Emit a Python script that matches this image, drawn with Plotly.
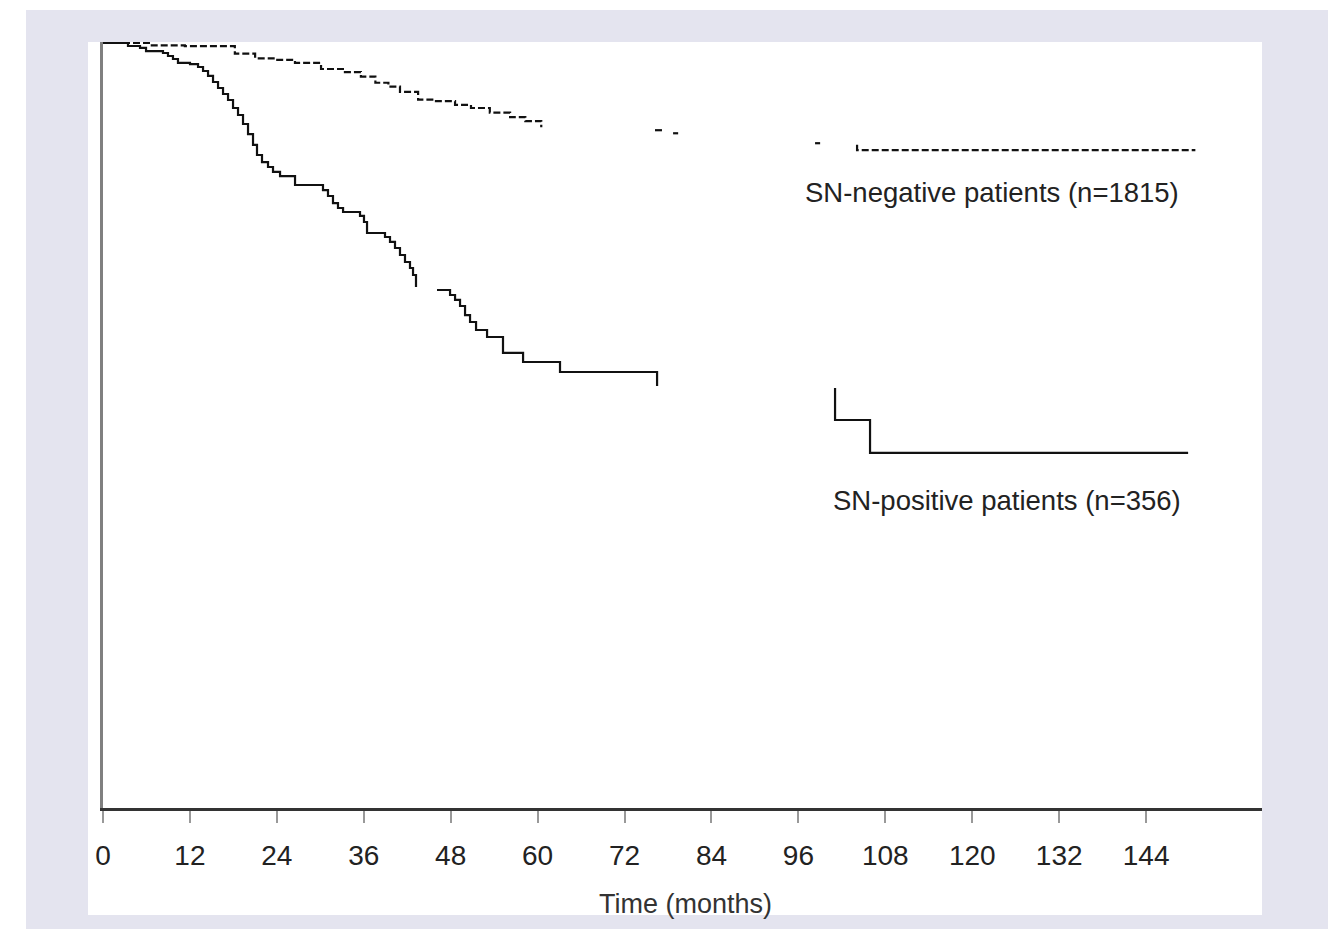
import plotly.graph_objects as go

# ---------------- data ----------------
# SN-negative Kaplan-Meier curve (dashed). None = gaps where the printed dashes vanish.
neg_months = [0, 6.5, 11.3, 18.2, 21.0, 23.8, 26.5, 30.1, 33.4, 35.6, 37.6, 39.4, 41.0,
              43.5, 45.8, 48.6, 50.8, 53.4, 56.2, 58.3, 60.5,
              None, 76.2, 77.2, None, 78.7, 79.4, None, 98.3, 99.0,
              None, 104.1, 104.1, 150.8]
neg_surv = [1.000, 0.997, 0.996, 0.986, 0.980, 0.978, 0.974, 0.966, 0.962, 0.956, 0.948, 0.943, 0.936,
            0.926, 0.924, 0.919, 0.915, 0.909, 0.903, 0.898, 0.890,
            None, 0.886, 0.886, None, 0.882, 0.882, None, 0.869, 0.869,
            None, 0.867, 0.860, 0.860]

# SN-positive Kaplan-Meier curve (solid)
pos_months = [0, 3.45, 5.11, 5.94, 8.28, 8.97, 9.66, 10.35, 12.01, 13.12,
              13.81, 14.50, 15.19, 15.88, 16.57, 17.26, 17.95, 18.64, 19.33, 20.02,
              20.71, 21.26, 21.95, 22.78, 23.47, 24.44, 26.51, 30.37, 31.06, 31.75,
              32.44, 33.14, 35.48, 36.03, 36.45, 38.93, 39.62, 40.31, 41.00, 41.69,
              42.38, 42.80, 43.21,
              None, 46.11, 47.91, 48.60, 49.29, 49.98, 50.67, 51.50, 53.02, 55.22, 57.99, 63.09, 76.49,
              None, 101.06, 101.06, 105.89, 149.80]
pos_surv = [1.000, 0.9961, 0.9935, 0.9895, 0.9869, 0.9830, 0.9791, 0.9739, 0.9725, 0.9686,
            0.9634, 0.9569, 0.9490, 0.9412, 0.9333, 0.9255, 0.9150, 0.9059, 0.8941, 0.8810,
            0.8667, 0.8536, 0.8444, 0.8379, 0.8314, 0.8261, 0.8144, 0.8078, 0.8000, 0.7908,
            0.7843, 0.7791, 0.7739, 0.7660, 0.7516, 0.7464, 0.7399, 0.7320, 0.7229, 0.7137,
            0.7059, 0.6967, 0.6810,
            None, 0.6771, 0.6706, 0.6641, 0.6562, 0.6444, 0.6353, 0.6248, 0.6157, 0.5948, 0.5830, 0.5699, 0.5516,
            None, 0.5490, 0.5072, 0.4641, 0.4641]

tick_vals = [0, 12, 24, 36, 48, 60, 72, 84, 96, 108, 120, 132, 144]
tick_text = [str(v) for v in tick_vals]

neg_label = "SN-negative patients (n=1815)"
pos_label = "SN-positive patients (n=356)"
x_title = "Time (months)"

# ---------------- layout geometry (page pixels) ----------------
OFF = 8                     # default body margin of the html page
W, H = 1337 - OFF, 929 - OFF
L, R, T, B = 103, 1262, 42, 808   # plot area in page pixels


def px_x(p):
    return (p - L) / (R - L)


def px_y(p):
    return (B - p) / (B - T)


FONT = "Liberation Sans, Arial, sans-serif"

fig = go.Figure()
fig.add_trace(go.Scatter(x=neg_months, y=neg_surv, mode="lines", line_shape="hv",
                         connectgaps=False,
                         line=dict(color="#111111", width=2.2, dash="7px,3px"),
                         name=neg_label, hoverinfo="skip"))
fig.add_trace(go.Scatter(x=pos_months, y=pos_surv, mode="lines", line_shape="hv",
                         connectgaps=False,
                         line=dict(color="#111111", width=2.2),
                         name=pos_label, hoverinfo="skip"))

fig.update_layout(
    width=W, height=H, autosize=False,
    margin=dict(l=L - OFF, r=1337 - R, t=T - OFF, b=929 - B, pad=0),
    paper_bgcolor="white", plot_bgcolor="rgba(0,0,0,0)",
    showlegend=False,
    shapes=[
        dict(type="rect", xref="paper", yref="paper", layer="below",
             x0=px_x(26), x1=px_x(1328), y0=px_y(935), y1=px_y(10),
             fillcolor="#e4e4ef", line=dict(width=0)),
        dict(type="rect", xref="paper", yref="paper", layer="below",
             x0=px_x(88), x1=px_x(1262), y0=px_y(915), y1=px_y(42),
             fillcolor="white", line=dict(width=0)),
    ],
    xaxis=dict(range=[0, 160], tickmode="array", tickvals=tick_vals, ticktext=tick_text,
               showgrid=False, zeroline=False, showline=True, linecolor="#333333", linewidth=2.5,
               ticks="outside", ticklen=12, tickwidth=1.5, tickcolor="#999999",
               tickfont=dict(family=FONT, size=28, color="#222222"),
               ticklabelstandoff=9, fixedrange=True),
    yaxis=dict(range=[0, 1.0013], showgrid=False, zeroline=False, showline=True,
               linecolor="#808080", linewidth=3, ticks="", showticklabels=False,
               fixedrange=True),
    annotations=[
        dict(x=122.7, y=0.804, xref="x", yref="y", text=neg_label, showarrow=False,
             xanchor="center", yanchor="middle", font=dict(family=FONT, size=27.5, color="#222222")),
        dict(x=124.8, y=0.4026, xref="x", yref="y", text=pos_label, showarrow=False,
             xanchor="center", yanchor="middle", font=dict(family=FONT, size=27.5, color="#222222")),
        dict(x=px_x(685), y=px_y(904), xref="paper", yref="paper", text=x_title, showarrow=False,
             xanchor="center", yanchor="middle", font=dict(family=FONT, size=27, color="#333333")),
    ],
)

fig.write_html("out.html")
